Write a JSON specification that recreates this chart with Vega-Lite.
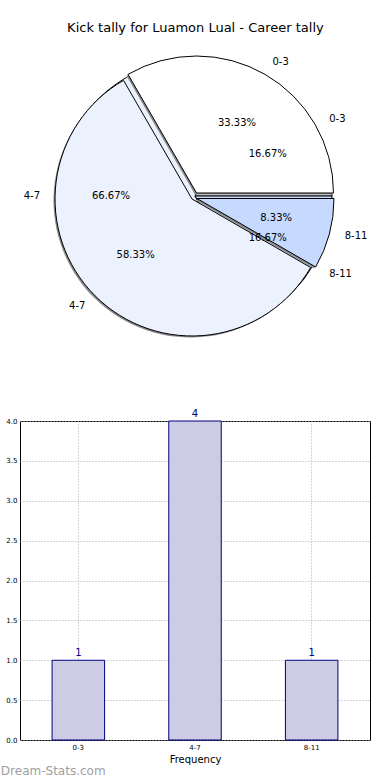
{
  "$schema": "https://vega.github.io/schema/vega-lite/v6.json",
  "padding": {"left": 0, "top": 22, "right": 0, "bottom": 0},
  "config": {"font": "DejaVu Sans", "view": {"stroke": null}},
  "title": {"text": "Kick tally for Luamon Lual - Career tally", "fontSize": 13, "fontWeight": "normal", "font": "DejaVu Sans", "color": "#000000", "offset": 10, "anchor": "middle", "dx": 10},
  "spacing": 61,
  "datasets": {
    "pies": [
      {"pie": "career", "range": "0-3", "count": 1, "pct": "16.67%"},
      {"pie": "career", "range": "4-7", "count": 4, "pct": "66.67%"},
      {"pie": "career", "range": "8-11", "count": 1, "pct": "16.67%"},
      {"pie": "other", "range": "0-3", "count": 4, "pct": "33.33%"},
      {"pie": "other", "range": "4-7", "count": 7, "pct": "58.33%"},
      {"pie": "other", "range": "8-11", "count": 1, "pct": "8.33%"}
    ],
    "bars": [
      {"range": "0-3", "count": 1},
      {"range": "4-7", "count": 4},
      {"range": "8-11", "count": 1}
    ]
  },
  "vconcat": [
    {
      "width": 350,
      "height": 302,
      "data": {"name": "pies"},
      "transform": [
        {"stack": "count", "groupby": ["pie"], "offset": "normalize", "sort": [{"field": "range", "order": "descending"}], "as": ["s0", "s1"]}
      ],
      "encoding": {
        "theta": {"field": "s0", "type": "quantitative", "stack": null, "scale": {"domain": [0, 1], "range": [1.5708, 7.854]}},
        "theta2": {"field": "s1"},
        "color": {"field": "range", "type": "nominal", "scale": {"domain": ["0-3", "4-7", "8-11"], "range": ["#ffffff", "#ebf1fd", "#c6d9fe"]}, "legend": null}
      },
      "layer": [
        {"transform": [{"filter": "datum.pie === 'career'"}], "mark": {"type": "arc", "outerRadius": 137, "xOffset": -1.5, "yOffset": 1.5, "stroke": null}, "encoding": {"color": {"value": "#8a8a8a"}}},
        {"transform": [{"filter": "datum.pie === 'career'"}], "mark": {"type": "arc", "outerRadius": 137, "stroke": "#000000", "strokeWidth": 1}},
        {"transform": [{"filter": "datum.pie === 'other' && datum.range === '4-7'"}], "mark": {"type": "arc", "outerRadius": 137, "xOffset": -4.5, "yOffset": 4.5, "stroke": null}, "encoding": {"color": {"value": "#8a8a8a"}}},
        {"transform": [{"filter": "datum.pie === 'other' && datum.range === '0-3'"}], "mark": {"type": "arc", "outerRadius": 137, "xOffset": 0, "yOffset": -1.5, "stroke": null}, "encoding": {"color": {"value": "#8a8a8a"}}},
        {"transform": [{"filter": "datum.pie === 'other' && datum.range === '8-11'"}], "mark": {"type": "arc", "outerRadius": 137, "xOffset": 0.5, "yOffset": 4, "stroke": null}, "encoding": {"color": {"value": "#8a8a8a"}}},
        {"transform": [{"filter": "datum.pie === 'other' && datum.range === '4-7'"}], "mark": {"type": "arc", "outerRadius": 137, "xOffset": -3, "yOffset": 3, "stroke": "#000000", "strokeWidth": 1}},
        {"transform": [{"filter": "datum.pie === 'other' && datum.range === '0-3'"}], "mark": {"type": "arc", "outerRadius": 137, "xOffset": 1.5, "yOffset": -3, "stroke": "#000000", "strokeWidth": 1}},
        {"transform": [{"filter": "datum.pie === 'other' && datum.range === '8-11'"}], "mark": {"type": "arc", "outerRadius": 137, "xOffset": 2, "yOffset": 2.5, "stroke": "#000000", "strokeWidth": 1}},
        {"transform": [{"filter": "datum.pie === 'career'"}], "mark": {"type": "text", "radius": 155, "fontSize": 10, "color": "#000000", "align": "right"}, "encoding": {"theta": {"field": "count", "type": "quantitative", "stack": "normalize"}, "theta2": null, "order": {"field": "range", "type": "ordinal", "sort": "descending"}, "text": {"condition": {"test": "datum.range === '4-7'", "field": "range"}, "value": ""}, "color": {"value": "#000000"}}},
        {"transform": [{"filter": "datum.pie === 'career'"}], "mark": {"type": "text", "radius": 155, "fontSize": 10, "color": "#000000", "align": "left"}, "encoding": {"theta": {"field": "count", "type": "quantitative", "stack": "normalize"}, "theta2": null, "order": {"field": "range", "type": "ordinal", "sort": "descending"}, "text": {"condition": {"test": "datum.range !== '4-7'", "field": "range"}, "value": ""}, "color": {"value": "#000000"}}},
        {"transform": [{"filter": "datum.pie === 'career'"}], "mark": {"type": "text", "radius": 84, "fontSize": 10, "color": "#000000"}, "encoding": {"theta": {"field": "count", "type": "quantitative", "stack": "normalize"}, "theta2": null, "order": {"field": "range", "type": "ordinal", "sort": "descending"}, "text": {"field": "pct"}, "color": {"value": "#000000"}}},
        {"transform": [{"filter": "datum.pie === 'other'"}], "mark": {"type": "text", "radius": 155, "fontSize": 10, "color": "#000000", "align": "right"}, "encoding": {"theta": {"field": "count", "type": "quantitative", "stack": "normalize"}, "theta2": null, "order": {"field": "range", "type": "ordinal", "sort": "descending"}, "text": {"condition": {"test": "datum.range === '4-7'", "field": "range"}, "value": ""}, "color": {"value": "#000000"}}},
        {"transform": [{"filter": "datum.pie === 'other'"}], "mark": {"type": "text", "radius": 155, "fontSize": 10, "color": "#000000", "align": "left"}, "encoding": {"theta": {"field": "count", "type": "quantitative", "stack": "normalize"}, "theta2": null, "order": {"field": "range", "type": "ordinal", "sort": "descending"}, "text": {"condition": {"test": "datum.range !== '4-7'", "field": "range"}, "value": ""}, "color": {"value": "#000000"}}},
        {"transform": [{"filter": "datum.pie === 'other'"}], "mark": {"type": "text", "radius": 84, "fontSize": 10, "color": "#000000"}, "encoding": {"theta": {"field": "count", "type": "quantitative", "stack": "normalize"}, "theta2": null, "order": {"field": "range", "type": "ordinal", "sort": "descending"}, "text": {"field": "pct"}, "color": {"value": "#000000"}}}
      ]
    },
    {
      "width": 350,
      "height": 319,
      "data": {"name": "bars"},
      "view": {"stroke": "#000000", "strokeWidth": 1},
      "title": {"text": "Dream-Stats.com", "orient": "bottom", "anchor": "start", "frame": "bounds", "fontSize": 12, "fontWeight": "normal", "color": "#a0a0a0", "offset": 2, "dx": -5},
      "encoding": {
        "x": {"field": "range", "type": "nominal", "sort": null,
          "scale": {"paddingInner": 0.55, "paddingOuter": 0.275},
          "axis": {"title": "Frequency", "titleFontSize": 10, "titleFontWeight": "normal", "titleColor": "#000000", "titlePadding": 4, "labelFontSize": 7, "labelAngle": 0, "labelColor": "#000000", "labelPadding": 3, "grid": true, "gridDash": [1, 2], "gridColor": "#aaaaaa", "bandPosition": 0.5, "domain": false, "ticks": false}},
        "y": {"field": "count", "type": "quantitative", "scale": {"domain": [0, 4]},
          "axis": {"title": null, "values": [0, 0.5, 1, 1.5, 2, 2.5, 3, 3.5, 4], "format": ".1f", "labelFontSize": 7, "labelColor": "#000000", "labelPadding": 3, "grid": true, "gridDash": [1, 2], "gridColor": "#aaaaaa", "domain": false, "ticks": false}}
      },
      "layer": [
        {"mark": {"type": "bar", "fill": "#cccce4", "stroke": "#000080", "strokeWidth": 1}},
        {"mark": {"type": "text", "dy": -7, "color": "#000080", "fontSize": 10}, "encoding": {"text": {"field": "count"}}}
      ]
    }
  ]
}
